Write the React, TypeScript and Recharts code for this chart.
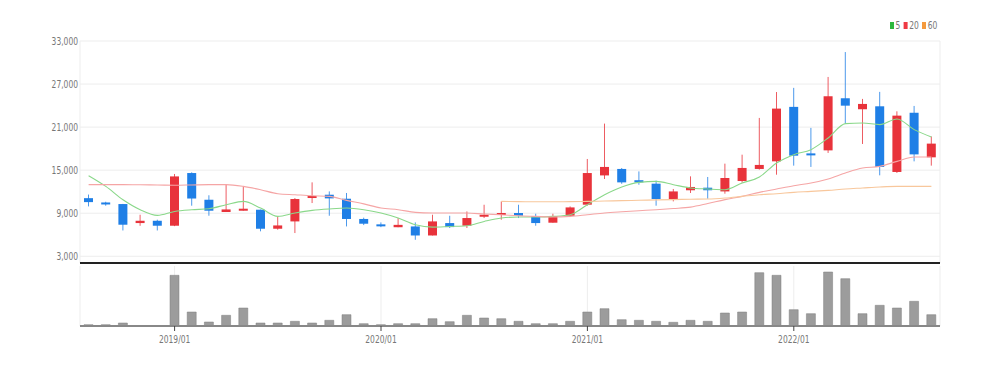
import { ComposedChart, Bar, Line, XAxis, YAxis, CartesianGrid } from 'recharts';

const months = [
  '2018/08', '2018/09', '2018/10', '2018/11', '2018/12',
  '2019/01', '2019/02', '2019/03', '2019/04', '2019/05', '2019/06',
  '2019/07', '2019/08', '2019/09', '2019/10', '2019/11', '2019/12',
  '2020/01', '2020/02', '2020/03', '2020/04', '2020/05', '2020/06',
  '2020/07', '2020/08', '2020/09', '2020/10', '2020/11', '2020/12',
  '2021/01', '2021/02', '2021/03', '2021/04', '2021/05', '2021/06',
  '2021/07', '2021/08', '2021/09', '2021/10', '2021/11', '2021/12',
  '2022/01', '2022/02', '2022/03', '2022/04', '2022/05', '2022/06',
  '2022/07', '2022/08', '2022/09',
];

const yearTicks = ['2019/01', '2020/01', '2021/01', '2022/01'];
const priceTicks = [3000, 9000, 15000, 21000, 27000, 33000];

const openPrices = [
  11100, 10500, 10280, 7630, 7950, 7260, 14600, 10880, 9170, 9350,
  9490, 6840, 7860, 11120, 11580, 11020, 8200, 7450, 7050, 7160,
  5900, 7630, 7260, 8560, 8890, 9030, 8560, 7680, 8650, 10190,
  14270, 15170, 13600, 13120, 10980, 12200, 12560, 12040, 13490, 15170,
  16230, 23820, 17340, 17760, 25020, 23490, 23900, 14750, 23000, 16790,
];
const highPrices = [
  11600, 10600, 10300, 8790, 8100, 14470, 14700, 11500, 12970, 12740,
  9500, 8550, 11120, 13300, 12040, 11820, 8380, 7720, 8330, 7720,
  8790, 8650, 9250, 10180, 10650, 10180, 8930, 8930, 9950, 16560,
  21490, 15300, 14830, 13540, 12380, 14140, 14050, 15910, 17160, 22280,
  25890, 26470, 20890, 27990, 31460, 24930, 25910, 23200, 23950, 19700,
];
const lowPrices = [
  9950, 10050, 6600, 7250, 6600, 7200, 10050, 8650, 9170, 9350,
  6480, 6700, 6240, 10420, 8650, 7160, 7350, 7060, 7050, 5300,
  5900, 6940, 6940, 8330, 8100, 8330, 7260, 7680, 8470, 10050,
  13770, 13100, 12970, 10050, 10650, 11820, 11020, 11720, 13260, 15070,
  14370, 15630, 15450, 17400, 21490, 18650, 14280, 14610, 16230, 15630,
];
const closePrices = [
  10550, 10250, 7400, 7950, 7260, 14130, 11050, 9350, 9530, 9630,
  6840, 7300, 10980, 11400, 11070, 8200, 7540, 7260, 7380, 5900,
  7860, 7070, 8330, 8790, 9030, 8650, 7630, 8610, 9810, 14600,
  15450, 13300, 13300, 10980, 12040, 12660, 12200, 13910, 15310, 15730,
  23580, 17020, 17060, 25300, 23990, 24230, 15450, 22600, 17200, 18700,
];
const volumes = [
  130, 130, 300, 0, 0, 5070, 1400, 400, 1070, 1800,
  300, 300, 470, 300, 570, 1130, 230, 130, 230, 230,
  730, 430, 1070, 800, 730, 470, 230, 230, 470, 1400,
  1730, 630, 570, 470, 370, 570, 470, 1300, 1400, 5330,
  5070, 1630, 1230, 5400, 4730, 1230, 2070, 1800, 2470, 1130,
];
const ma5 = [
  14230, 12740, 10880, 9490, 8700, 9250, 9490, 9630, 10190, 10650,
  9720, 8560, 9030, 9400, 9600, 9720, 9490, 9030, 8330, 7400,
  7070, 7160, 7260, 7860, 8330, 8470, 8470, 8560, 8790, 10190,
  11580, 12660, 13300, 13440, 12980, 12520, 12380, 12280, 13210, 14050,
  16000, 17160, 17860, 19490, 21490, 21580, 21350, 22140, 20650, 19630,
];
const ma20 = [
  12980, 12980, 12980, 12960, 12940, 12900, 12940, 12980, 12980, 12740,
  12280, 11720, 11580, 11440, 11350, 10790, 10300, 9720, 9490, 9120,
  9030, 9030, 9030, 8890, 8790, 8650, 8560, 8470, 8560, 8790,
  9030, 9200, 9350, 9490, 9650, 9850, 10350, 10900, 11350, 11910,
  12380, 12840, 13210, 13770, 14610, 15300, 15530, 16230, 16840, 16840,
];
const ma60 = [
  null, null, null, null, null, null, null, null, null, null,
  null, null, null, null, null, null, null, null, null, null,
  null, null, null, null, 10650, 10620, 10600, 10600, 10620, 10650,
  10700, 10750, 10800, 10860, 10900, 10950, 10980, 11120, 11350, 11580,
  11720, 11910, 12040, 12190, 12380, 12520, 12660, 12740, 12740, 12740,
];

const data = months.map((month, i) => ({
  month,
  open: openPrices[i],
  high: highPrices[i],
  low: lowPrices[i],
  close: closePrices[i],
  range: [lowPrices[i], highPrices[i]],
  volume: volumes[i],
  ma5: ma5[i],
  ma20: ma20[i],
  ma60: ma60[i],
}));

const FONT = "'DejaVu Sans Condensed', 'Liberation Sans', sans-serif";
const RED = '#e8333b';
const BLUE = '#1f7fe6';
const SQUEEZE = 0.8;

function Candle(props: any) {
  const { x, y, width, height, payload } = props;
  if (!payload) return null;
  const { open, close, high, low } = payload;
  const color = close >= open ? RED : BLUE;
  const top = Math.min(y, y + height);
  const h = Math.abs(height);
  const ratio = high > low ? h / (high - low) : 0;
  const bodyTop = top + (high - Math.max(open, close)) * ratio;
  const bodyH = Math.max(2, Math.abs(open - close) * ratio);
  const cx = x + width / 2;
  return (
    <g>
      <line x1={cx} x2={cx} y1={top} y2={top + h} stroke={color} strokeOpacity={0.8} strokeWidth={1} />
      <rect x={x} y={bodyTop} width={width} height={bodyH} fill={color} />
    </g>
  );
}

// narrow gray tick text, the original uses a condensed face
function PriceTick(props: any) {
  const { x, y, payload } = props;
  return (
    <g transform={`translate(${x},${y}) scale(${SQUEEZE},1)`}>
      <text textAnchor="end" dy="0.35em" fontSize={10.5} fill="#777" fontFamily={FONT}>
        {Number(payload.value).toLocaleString('en-US')}
      </text>
    </g>
  );
}

function MonthTick(props: any) {
  const { x, y, payload } = props;
  return (
    <g transform={`translate(${x},${y}) scale(${SQUEEZE},1)`}>
      <text textAnchor="middle" dy="0.8em" fontSize={10.5} fill="#777" fontFamily={FONT}>
        {payload.value}
      </text>
    </g>
  );
}

function Legend() {
  const items = [
    { label: '5', color: '#2db83d' },
    { label: '20', color: '#ef3a43' },
    { label: '60', color: '#f59a3c' },
  ];
  return (
    <div
      style={{
        position: 'absolute',
        top: 19,
        left: 890,
        display: 'flex',
        gap: 4,
        fontFamily: FONT,
        fontSize: 10.5,
        color: '#777',
        lineHeight: '12px',
        transform: `scaleX(${SQUEEZE})`,
        transformOrigin: 'left top',
      }}
    >
      {items.map((it) => (
        <span key={it.label} style={{ display: 'flex', alignItems: 'center', gap: 2 }}>
          <span style={{ width: 5, height: 7, background: it.color, display: 'inline-block' }} />
          {it.label}
        </span>
      ))}
    </div>
  );
}

export default function App() {
  return (
    <div style={{ position: 'absolute', left: 0, top: 0, width: 994, height: 366, background: '#fff' }}>
      <Legend />
      <div style={{ position: 'absolute', left: 0, top: 0 }}>
        <ComposedChart
          width={994}
          height={264}
          data={data}
          margin={{ top: 41, right: 54, left: 0, bottom: 0 }}
        >
          <CartesianGrid stroke="#ededed" />
          <XAxis
            dataKey="month"
            ticks={yearTicks}
            interval={0}
            tick={false}
            tickLine={false}
            height={1}
            axisLine={{ stroke: '#222', strokeWidth: 2 }}
          />
          <YAxis
            width={80}
            domain={[2065, 33000]}
            ticks={priceTicks}
            interval={0}
            allowDataOverflow
            axisLine={false}
            tickLine={false}
            tickSize={0}
            tickMargin={2}
            tick={<PriceTick />}
          />
          <Bar dataKey="range" barSize={9} shape={<Candle />} isAnimationActive={false} />
          <Line type="monotone" dataKey="ma5" stroke="#8ad88a" strokeWidth={1.1} dot={false} isAnimationActive={false} />
          <Line type="monotone" dataKey="ma20" stroke="#f5a5a5" strokeWidth={1.1} dot={false} isAnimationActive={false} />
          <Line type="monotone" dataKey="ma60" stroke="#f8c79c" strokeWidth={1.1} dot={false} isAnimationActive={false} />
        </ComposedChart>
      </div>
      <div style={{ position: 'absolute', left: 0, top: 263 }}>
        <ComposedChart
          width={994}
          height={100}
          data={data}
          margin={{ top: 3, right: 54, left: 80, bottom: 7 }}
        >
          <CartesianGrid stroke="#ededed" horizontal={false} />
          <XAxis
            dataKey="month"
            ticks={yearTicks}
            interval={0}
            height={30}
            tickSize={5}
            tickMargin={4}
            tickLine={{ stroke: '#444' }}
            axisLine={{ stroke: '#888', strokeWidth: 2 }}
            tick={<MonthTick />}
          />
          <YAxis hide domain={[0, 6000]} />
          <Bar dataKey="volume" barSize={9} fill="#9c9c9c" stroke="#7d7d7d" strokeWidth={0.5} isAnimationActive={false} />
        </ComposedChart>
      </div>
    </div>
  );
}
